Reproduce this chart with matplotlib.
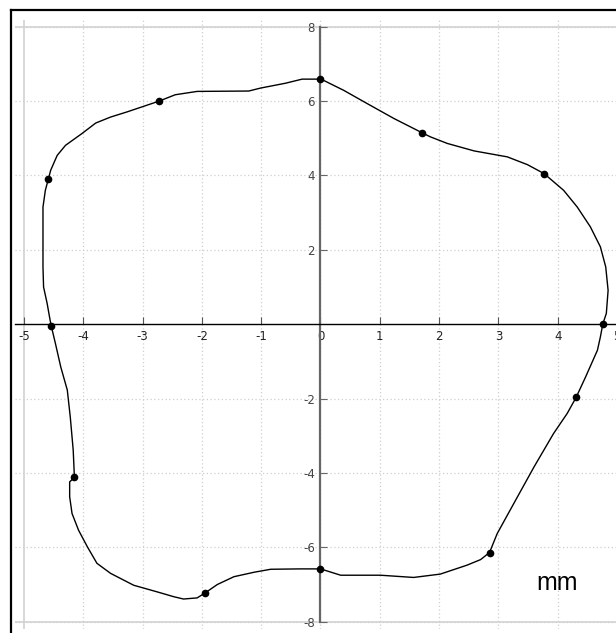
import numpy as np
import matplotlib.pyplot as plt
from matplotlib.lines import Line2D

# traced outline (mm), clockwise from the top
curve_x = [0.01, 0.39, 0.79, 1.24, 1.71, 1.85, 2.14, 2.59, 3.15, 3.49, 3.77, 4.10, 4.33, 4.55,
           4.72, 4.81, 4.85, 4.82, 4.76, 4.72, 4.67, 4.47, 4.31, 4.16, 3.93, 3.60, 3.26, 2.98,
           2.85, 2.70, 2.47, 2.02, 1.57, 1.01, 0.34, 0.0, -0.34, -0.84, -1.12, -1.46, -1.74,
           -1.94, -2.08, -2.31, -2.47, -2.75, -3.15, -3.54, -3.77, -3.93, -4.08, -4.19, -4.23,
           -4.23, -4.15, -4.17, -4.22, -4.27, -4.38, -4.47, -4.54, -4.56, -4.61, -4.67, -4.68,
           -4.68, -4.68, -4.64, -4.59, -4.55, -4.44, -4.30, -4.02, -3.79, -3.54, -3.26, -2.72,
           -2.45, -2.08, -1.21, -1.01, -0.59, -0.31, 0.01]
curve_y = [6.59, 6.29, 5.93, 5.53, 5.15, 5.04, 4.86, 4.66, 4.50, 4.29, 4.05, 3.60, 3.15, 2.62,
           2.08, 1.54, 0.91, 0.29, 0.0, -0.34, -0.70, -1.42, -1.97, -2.40, -2.94, -3.84, -4.82,
           -5.63, -6.14, -6.33, -6.48, -6.72, -6.81, -6.75, -6.75, -6.58, -6.58, -6.59, -6.67,
           -6.79, -7.00, -7.22, -7.36, -7.39, -7.33, -7.20, -7.02, -6.70, -6.43, -5.99, -5.54,
           -5.09, -4.64, -4.24, -4.12, -3.39, -2.49, -1.77, -1.15, -0.52, -0.05, 0.11, 0.56,
           1.00, 1.54, 2.44, 3.15, 3.60, 3.90, 4.14, 4.54, 4.81, 5.13, 5.41, 5.57, 5.71, 6.00,
           6.17, 6.26, 6.27, 6.35, 6.48, 6.59, 6.59]

# measured points
pts_x = [0.0, 1.71, 3.77, 4.76, 4.31, 2.85, 0.0, -1.94, -4.15, -4.54, -4.59, -2.72]
pts_y = [6.59, 5.15, 4.05, 0.0, -1.97, -6.14, -6.58, -7.22, -4.12, -0.05, 3.90, 6.00]

x_ticks = np.arange(-5, 6, 1)
y_ticks = [-8, -6, -4, -2, 2, 4, 6, 8]

W, H = 616, 633
fig = plt.figure(figsize=(W / 100, H / 100), dpi=100)

# axes placed so that x=-5 -> 24px, x=5 -> 617px, y=8 -> 26.7px, y=-8 -> 621.7px
x0, x1 = -5.15, 5.0
y0, y1 = -8.2, 8.18
sx = (617 - 24) / 10.0
sy = (621.7 - 26.7) / 16.0
left_px = 24 + (x0 + 5) * sx
top_px = 26.7 - (y1 - 8) * sy
bot_px = 621.7 + (-8 - y0) * sy
ax = fig.add_axes([left_px / W, 1 - bot_px / H, (617 - left_px) / W, (bot_px - top_px) / H])
ax.set_xlim(x0, x1)
ax.set_ylim(y0, y1)

# dotted grid
for gx in x_ticks[1:]:
    ax.axvline(gx, color='#cfcfcf', lw=0.9, ls=(0, (1, 2)), zorder=0)
for gy in y_ticks:
    ax.axhline(gy, color='#cfcfcf', lw=0.9, ls=(0, (1, 2)), zorder=0)

# light frame lines
ax.axhline(8, color='#d2d2d2', lw=1.2, zorder=1)
ax.axhline(-8, color='#d2d2d2', lw=1.2, zorder=1)
ax.axvline(-5, color='#d2d2d2', lw=1.2, zorder=1)

for s in ['top', 'right']:
    ax.spines[s].set_visible(False)
ax.spines['bottom'].set_position(('data', 0))
ax.spines['bottom'].set_color('black')
ax.spines['bottom'].set_linewidth(1.0)
ax.spines['left'].set_position(('data', 0))
ax.spines['left'].set_color('#666666')
ax.spines['left'].set_linewidth(1.6)
ax.spines['left'].set_bounds(-8, 8)

ax.set_xticks(x_ticks)
ax.set_xticklabels([str(v) for v in x_ticks])
ax.set_yticks(y_ticks)
ax.set_yticklabels([str(v) for v in y_ticks])
ax.tick_params(axis='x', direction='in', length=5, width=0.8, color='#555555',
               labelsize=8.5, labelcolor='#222222', pad=4)
ax.tick_params(axis='y', direction='in', length=5, width=0.8, color='#666666',
               labelsize=8.5, labelcolor='#444444', pad=4)

ax.plot(curve_x, curve_y, color='black', lw=1.0, zorder=3)
ax.plot(pts_x, pts_y, 'o', color='black', ms=4.5, zorder=4)

ax.text(3.99, -6.97, 'mm', fontsize=18, family='Liberation Sans', ha='center', va='center')

# black outer border (left and top only visible)
bx = 11 / W
by = 1 - 10 / H
fig.add_artist(Line2D([bx, bx], [0, by], color='black', lw=1.6))
fig.add_artist(Line2D([bx, 1], [by, by], color='black', lw=1.6))

fig.savefig('out.png', dpi=100)
